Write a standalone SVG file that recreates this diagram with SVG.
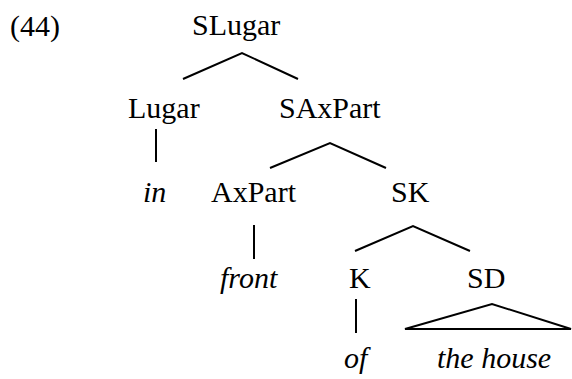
<svg xmlns="http://www.w3.org/2000/svg" width="572" height="379" viewBox="0 0 572 379">
<style>
.t{font-family:'Liberation Serif','Times New Roman',serif;font-size:30px;fill:#000}
.i{font-style:italic}
.e{stroke:#000;stroke-width:2;fill:none}
</style>
<rect width="572" height="379" fill="#fff"/>
<text x="10" y="36" class="t">(44)</text>
<g id="n-slugar"><text x="192" y="35" class="t">SLugar</text></g>
<g id="n-lugar"><text x="128" y="118" class="t">Lugar</text></g>
<g id="n-saxpart"><text x="279" y="118" class="t">SAxPart</text></g>
<g id="n-in"><text x="143" y="202" class="t i">in</text></g>
<g id="n-axpart"><text x="211" y="202" class="t">AxPart</text></g>
<g id="n-sk"><text x="391" y="202" class="t">SK</text></g>
<g id="n-front"><text x="220" y="288" class="t i">front</text></g>
<g id="n-k"><text x="349" y="288" class="t">K</text></g>
<g id="n-sd"><text x="467" y="288" class="t">SD</text></g>
<g id="n-of"><text x="344" y="368" class="t i">of</text></g>
<g id="n-thehouse"><text x="437" y="368" class="t i">the house</text></g>
<g id="edges" class="e">
<polyline points="183,79 242,53 298,79"/>
<line x1="156" y1="129" x2="156" y2="162"/>
<polyline points="270,168 330,143 386,168"/>
<line x1="254" y1="225" x2="254" y2="259"/>
<polyline points="355,251 413,226 470,251"/>
<line x1="356" y1="299" x2="356" y2="333"/>
<polygon points="405,329 492,304 571,329"/>
</g>
</svg>
